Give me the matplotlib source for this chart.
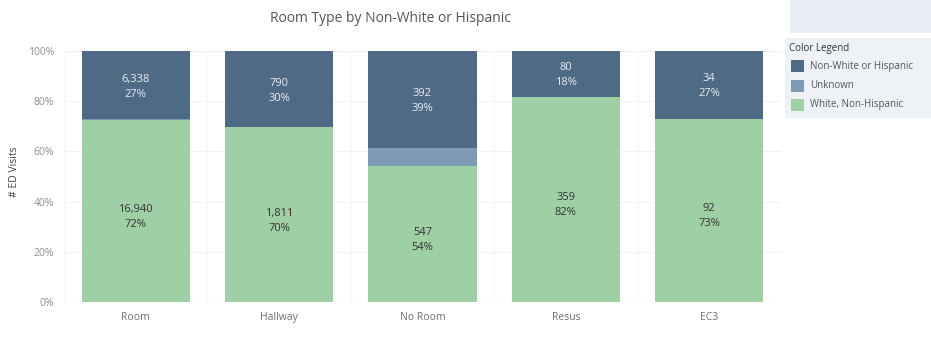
import matplotlib
matplotlib.use("Agg")
import matplotlib.pyplot as plt
from matplotlib.patches import Rectangle
import numpy as np

categories = ["Room", "Hallway", "No Room", "Resus", "EC3"]
white_non_hispanic = [16940, 1811, 547, 359, 92]
unknown = [100, 0, 72, 0, 0]
non_white_or_hispanic = [6338, 790, 392, 80, 34]
yticks = [0, 20, 40, 60, 80, 100]
legend_labels = ["Non-White or Hispanic", "Unknown", "White, Non-Hispanic"]

c_dark = "#4f6a84"
c_unk = "#7f9ab5"
c_green = "#9fcfa5"

plt.rcParams['font.family'] = ['Open Sans', 'DejaVu Sans']

fig = plt.figure(figsize=(9.31, 3.39), dpi=100)
ax = fig.add_axes([64/931, 1-302/339, (781-64)/931, 251/339])

w = np.array(white_non_hispanic, float)
u = np.array(unknown, float)
n = np.array(non_white_or_hispanic, float)
tot = w + u + n
wp, up, np_ = w/tot*100, u/tot*100, n/tot*100
x = np.arange(len(categories))
bw = 0.755
ax.bar(x, wp, bw, color=c_green, zorder=2)
ax.bar(x, up, bw, bottom=wp, color=c_unk, zorder=2)
ax.bar(x, np_, bw, bottom=wp+up, color=c_dark, zorder=2)

for i in range(len(x)):
    ax.text(x[i], wp[i]/2 - 2.4, f"{int(w[i]):,}\n{wp[i]:.0f}%", ha='center', va='center',
            fontsize=8, color='#333333', linespacing=1.5, zorder=3)
    ax.text(x[i], wp[i]+up[i]+np_[i]/2 - 0.6, f"{int(n[i]):,}\n{np_[i]:.0f}%", ha='center', va='center',
            fontsize=8, color='#e8edf3', linespacing=1.5, zorder=3)

ax.set_xlim(-0.5, len(x)-0.5)
ax.set_ylim(0, 100)
ax.set_yticks(yticks)
ax.set_yticklabels([f"{t}%" for t in yticks], fontsize=7.5, color='#8f8f8f')
ax.set_xticks(x)
ax.set_xticklabels(categories, fontsize=7.5, color='#6f6f6f')
ax.tick_params(length=0, pad=7)
for t in yticks:
    ax.axhline(t, color='#f2f2f2', lw=0.8, zorder=0)
for xv in np.arange(-0.5, len(x)):
    ax.axvline(xv, color='#f6f6f6', lw=0.6, zorder=0)
for s in ax.spines.values():
    s.set_visible(False)
ax.axhline(0, color='#e6e6e6', lw=0.8, zorder=1)
ax.set_ylabel("# ED Visits", fontsize=7.5, color='#444444')
ax.yaxis.set_label_coords(-(64-20)/717, 0.52)

fig.text(390/931, 1-19/339, "Room Type by Non-White or Hispanic", ha='center', va='center',
         fontsize=10, color='#555555')

# right-side panels
fig.patches.append(Rectangle((790/931, 1-33/339), 141/931, 33/339, transform=fig.transFigure,
                             facecolor='#e9eef5', edgecolor='none'))
fig.patches.append(Rectangle((785/931, 1-118/339), 146/931, 80/339, transform=fig.transFigure,
                             facecolor='#eef2f7', edgecolor='none'))
fig.text(789/931, 1-48/339, "Color Legend", fontsize=7, color='#333333', va='center', ha='left')
for k, (lab, col) in enumerate(zip(legend_labels, [c_dark, c_unk, c_green])):
    yc = 66 + k*19.5
    fig.patches.append(Rectangle((791/931, 1-(yc+6)/339), 13/931, 12/339, transform=fig.transFigure,
                                 facecolor=col, edgecolor='none'))
    fig.text(810/931, 1-yc/339, lab, fontsize=7, color='#555555', va='center', ha='left')

fig.savefig("out.png", dpi=100)
